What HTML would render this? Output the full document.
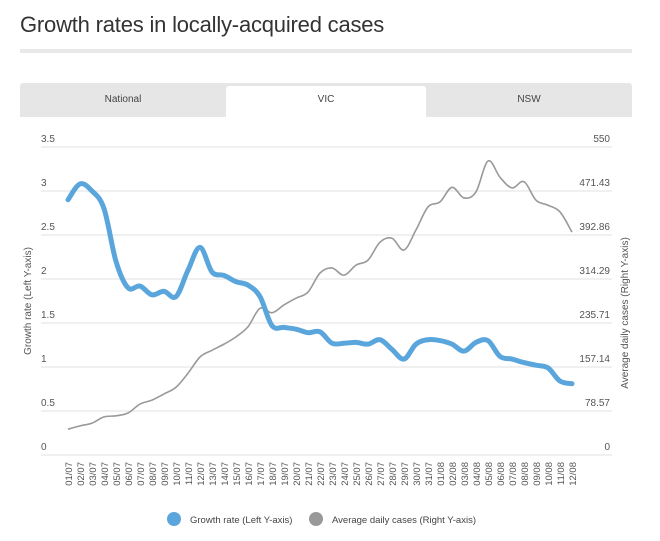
<!DOCTYPE html>
<html><head><meta charset="utf-8"><style>
body{margin:0;width:660px;height:541px;background:#fff;font-family:"Liberation Sans",sans-serif;overflow:hidden;position:relative}
.title{position:absolute;left:20px;top:12px;font-size:22px;color:#333;letter-spacing:-0.2px}
.rule{position:absolute;left:20px;top:49px;width:612px;height:4px;background:#e8e8e8}
.tabs{position:absolute;left:20px;top:83px;width:612px;height:34px;background:#e6e6e6;border-radius:3px 3px 0 0}
.tab{position:absolute;top:0;height:34px;line-height:34px;text-align:center;font-size:10px;color:#444}
.tab.active{background:#fff;top:3px;height:31px;line-height:28px;border-radius:3px 3px 0 0}
svg{position:absolute;left:0;top:0}
</style></head><body>
<div class="title">Growth rates in locally-acquired cases</div>
<div class="rule"></div>
<div class="tabs">
<div class="tab" style="left:0;width:206px">National</div>
<div class="tab active" style="left:206px;width:200px">VIC</div>
<div class="tab" style="left:406px;width:206px">NSW</div>
</div>
<svg id="chart" width="660" height="541"></svg>
<script>
const dates=["01/07","02/07","03/07","04/07","05/07","06/07","07/07","08/07","09/07","10/07","11/07","12/07","13/07","14/07","15/07","16/07","17/07","18/07","19/07","20/07","21/07","22/07","23/07","24/07","25/07","26/07","27/07","28/07","29/07","30/07","31/07","01/08","02/08","03/08","04/08","05/08","06/08","07/08","08/08","09/08","10/08","11/08","12/08"];
const growth=[2.9,3.08,3.0,2.8,2.2,1.9,1.92,1.82,1.86,1.8,2.1,2.36,2.08,2.04,1.97,1.93,1.8,1.47,1.45,1.43,1.39,1.4,1.27,1.27,1.28,1.26,1.31,1.2,1.09,1.26,1.31,1.3,1.26,1.18,1.28,1.3,1.12,1.09,1.05,1.02,0.99,0.84,0.81];
const cases=[46,52,57,68,70,75,91,98,109,121,146,175,187,198,211,229,262,254,268,280,291,325,334,321,339,348,380,387,366,402,443,452,478,459,470,525,496,477,488,455,446,434,398];
const leftTicks=["0","0.5","1","1.5","2","2.5","3","3.5"];
const rightTicks=["0","78.57","157.14","235.71","314.29","392.86","471.43","550"];
const svg=document.getElementById('chart');const NS='http://www.w3.org/2000/svg';
const X0=68,XS=(572-68)/(dates.length-1),YB=455,YT=147;
const x=i=>X0+i*XS, yL=v=>YB-(v/3.5)*(YB-YT), yR=v=>YB-(v/550)*(YB-YT);
function mk(t,a,txt){const e=document.createElementNS(NS,t);for(const k in a)e.setAttribute(k,a[k]);if(txt!==undefined)e.textContent=txt;svg.appendChild(e);return e;}
leftTicks.forEach((t,i)=>{const yy=YB-i*(YB-YT)/7;
const g=mk('line',{x1:41,x2:612,y1:yy,y2:yy,stroke:'#e0e0e0','stroke-width':1});


const a=mk('text',{x:41,y:yy-5,'font-size':10,fill:'#555'},t);


const b=mk('text',{x:610,y:yy-5,'font-size':10,fill:'#555','text-anchor':'end'},rightTicks[i]);

});
dates.forEach((d,i)=>{const t=mk('text',{transform:`translate(${x(i)+4},462) rotate(-90)`,'font-size':9.5,fill:'#555','text-anchor':'end'},d);

});
function smooth(pts){let d=`M${pts[0][0]},${pts[0][1]}`;for(let i=0;i<pts.length-1;i++){const p0=pts[i-1]||pts[i],p1=pts[i],p2=pts[i+1],p3=pts[i+2]||p2;const t=0.17;d+=` C${p1[0]+(p2[0]-p0[0])*t},${p1[1]+(p2[1]-p0[1])*t} ${p2[0]-(p3[0]-p1[0])*t},${p2[1]-(p3[1]-p1[1])*t} ${p2[0]},${p2[1]}`;}return d;}
const c=mk('path',{d:smooth(cases.map((v,i)=>[x(i),yR(v)])),fill:'none',stroke:'#999','stroke-width':1.6});


const g=mk('path',{d:smooth(growth.map((v,i)=>[x(i),yL(v)])),fill:'none',stroke:'#5aa6dc','stroke-width':5,'stroke-linejoin':'round','stroke-linecap':'round'});


const ly=mk('text',{transform:'translate(31,301) rotate(-90)','font-size':10,fill:'#555','text-anchor':'middle'},'Growth rate (Left Y-axis)');


const ry=mk('text',{transform:'translate(628,313) rotate(-90)','font-size':10,fill:'#555','text-anchor':'middle'},'Average daily cases (Right Y-axis)');


const l1=mk('circle',{cx:174,cy:519,r:7,fill:'#5aa6dc'});


const t1=mk('text',{x:190,y:523,'font-size':9.5,fill:'#444'},'Growth rate (Left Y-axis)');


const l2=mk('circle',{cx:316,cy:519,r:7,fill:'#999'});


const t2=mk('text',{x:332,y:523,'font-size':9.5,fill:'#444'},'Average daily cases (Right Y-axis)');


</script>
</body></html>
